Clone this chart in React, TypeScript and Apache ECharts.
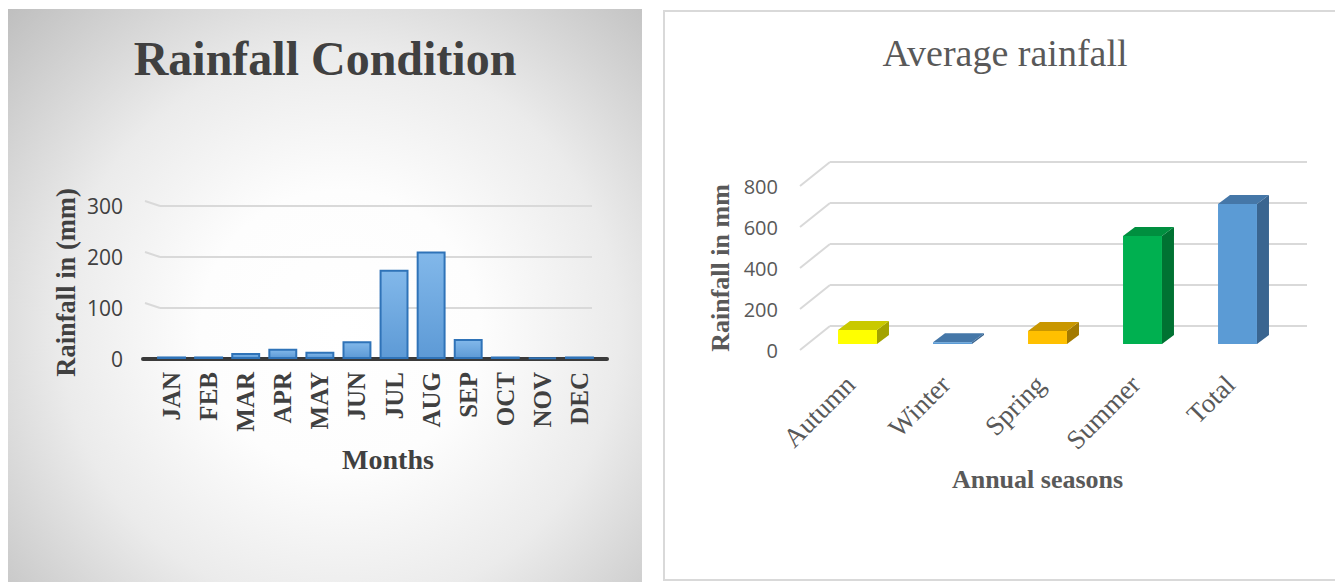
import { useEffect, useRef } from "react";
import * as echarts from "echarts";

// Monthly rainfall (left panel)
const months = ["JAN", "FEB", "MAR", "APR", "MAY", "JUN", "JUL", "AUG", "SEP", "OCT", "NOV", "DEC"];
const monthlyRainfall = [5, 5, 12, 20, 14, 35, 175, 211, 39, 5, 3, 5];
const monthlyTicks = [0, 100, 200, 300];

// Seasonal averages (right panel)
const seasons = ["Autumn", "Winter", "Spring", "Summer", "Total"];
const seasonalRainfall = [68, 8, 63, 527, 683];
const seasonalTicks = [0, 200, 400, 600, 800];

// Face colours of the 3-D columns: front, top, side
const seasonFront = ["#ffff00", "#5b9bd5", "#ffc000", "#00b050", "#5b9bd5"];
const seasonTop = ["#c9c900", "#4577a8", "#c99700", "#008f3f", "#4577a8"];
const seasonSide = ["#a3a300", "#3a6590", "#a37a00", "#007232", "#3a6590"];

const SERIF = "'Liberation Serif', 'Times New Roman', serif";
const SANS = "'Open Sans', 'Noto Sans', sans-serif";

const tickStep = (t: number[]) => t[1] - t[0];

export default function App() {
  const ref = useRef<HTMLDivElement>(null);

  useEffect(() => {
    if (!ref.current) return;
    const chart = echarts.init(ref.current, undefined, { renderer: "svg" });

    const leftY = {
      min: monthlyTicks[0],
      max: monthlyTicks[monthlyTicks.length - 1],
      interval: tickStep(monthlyTicks),
    };
    const rightY = {
      min: seasonalTicks[0],
      max: seasonalTicks[seasonalTicks.length - 1],
      interval: tickStep(seasonalTicks),
    };

    const option: any = {
      animation: false,
      graphic: [
        {
          type: "rect",
          z: -10,
          shape: { x: 8, y: 9, width: 634, height: 573 },
          style: {
            fill: new echarts.graphic.RadialGradient(
              340,
              330,
              465,
              [
                { offset: 0, color: "#ffffff" },
                { offset: 0.3, color: "#fdfdfd" },
                { offset: 0.6, color: "#ebebeb" },
                { offset: 1, color: "#bebebe" },
              ],
              true
            ),
          },
        },
        {
          type: "rect",
          z: -10,
          shape: { x: 664, y: 11, width: 720, height: 569 },
          style: { fill: "#ffffff", stroke: "#d9d9d9", lineWidth: 2 },
        },
        {
          type: "text",
          x: 325,
          y: 58,
          style: {
            text: "Rainfall Condition",
            align: "center",
            verticalAlign: "middle",
            font: `bold 48px ${SERIF}`,
            fill: "#404040",
          },
        },
        {
          type: "text",
          x: 1005,
          y: 53,
          style: {
            text: "Average rainfall",
            align: "center",
            verticalAlign: "middle",
            font: `38px ${SERIF}`,
            fill: "#595959",
          },
        },
      ],
      grid: [
        { left: 153, top: 206, width: 445, height: 153 }, // bars
        { left: 160, top: 206, width: 432, height: 153 }, // back gridlines
        { left: 143, top: 206, width: 464, height: 153 }, // floor line
        { left: 810, top: 186, width: 475, height: 164 }, // seasonal columns
        { left: 830, top: 162, width: 477, height: 164 }, // back wall
      ],
      xAxis: [
        {
          gridIndex: 0,
          type: "category",
          data: months,
          axisLine: { show: false },
          axisTick: { show: false },
          axisLabel: {
            rotate: 90,
            margin: 13,
            interval: 0,
            color: "#404040",
            fontFamily: SERIF,
            fontWeight: "bold",
            fontSize: 25,
          },
          name: "Months",
          nameLocation: "middle",
          nameGap: 86,
          nameTextStyle: {
            color: "#404040",
            fontFamily: SERIF,
            fontWeight: "bold",
            fontSize: 28,
            padding: [0, 0, 0, 25],
          },
        },
        { gridIndex: 1, type: "category", data: months, show: false },
        {
          gridIndex: 2,
          type: "category",
          data: months,
          offset: 2.5,
          axisLine: { lineStyle: { color: "#3a3a3a", width: 4 } },
          axisTick: { show: false },
          axisLabel: { show: false },
        },
        {
          gridIndex: 3,
          type: "category",
          data: seasons,
          axisLine: { show: false },
          axisTick: { show: false },
          axisLabel: {
            rotate: 45,
            margin: 23,
            interval: 0,
            color: "#595959",
            fontFamily: SERIF,
            fontSize: 27,
            padding: [0, 10, 0, 0],
          },
          name: "Annual seasons",
          nameLocation: "middle",
          nameGap: 116,
          nameTextStyle: {
            color: "#595959",
            fontFamily: SERIF,
            fontWeight: "bold",
            fontSize: 26,
            padding: [0, 20, 0, 0],
          },
        },
        { gridIndex: 4, type: "category", data: seasons, show: false },
      ],
      yAxis: [
        {
          gridIndex: 0,
          type: "value",
          ...leftY,
          splitLine: { show: false },
          axisLine: { show: false },
          axisTick: { show: false },
          axisLabel: { margin: 30, color: "#404040", fontFamily: SANS, fontSize: 21 },
          name: "Rainfall in (mm)",
          nameLocation: "middle",
          nameRotate: 90,
          nameGap: 74,
          nameTextStyle: {
            color: "#404040",
            fontFamily: SERIF,
            fontWeight: "bold",
            fontSize: 26.5,
          },
        },
        {
          gridIndex: 1,
          type: "value",
          ...leftY,
          axisLine: { show: false },
          axisTick: { show: false },
          axisLabel: { show: false },
          splitLine: {
            lineStyle: {
              color: monthlyTicks.map((t, i) => (i === 0 ? "rgba(0,0,0,0)" : "#d9d9d9")),
              width: 2,
            },
          },
        },
        { gridIndex: 2, type: "value", ...leftY, show: false },
        {
          gridIndex: 3,
          type: "value",
          ...rightY,
          splitLine: { show: false },
          axisLine: { show: false },
          axisTick: { show: false },
          axisLabel: { margin: 32, color: "#595959", fontFamily: SANS, fontSize: 20 },
          name: "Rainfall in mm",
          nameLocation: "middle",
          nameRotate: 90,
          nameGap: 77,
          nameTextStyle: {
            color: "#595959",
            fontFamily: SERIF,
            fontWeight: "bold",
            fontSize: 26,
          },
        },
        {
          gridIndex: 4,
          type: "value",
          ...rightY,
          axisLine: { show: false },
          axisTick: { show: false },
          axisLabel: { show: false },
          splitLine: { lineStyle: { color: "#d9d9d9", width: 2 } },
        },
      ],
      series: [
        {
          type: "bar",
          xAxisIndex: 0,
          yAxisIndex: 0,
          data: monthlyRainfall,
          barWidth: "78%",
          itemStyle: {
            color: new echarts.graphic.LinearGradient(0, 0, 0, 1, [
              { offset: 0, color: "#82b8ea" },
              { offset: 1, color: "#5d9ad6" },
            ]),
            borderColor: "#2f73b8",
            borderWidth: 2,
          },
        },
        {
          // short receding ends of the back gridlines
          type: "custom",
          xAxisIndex: 1,
          yAxisIndex: 1,
          silent: true,
          data: monthlyTicks.slice(1).map((t) => [0, t]),
          renderItem: (params: any, api: any) => {
            const y = api.coord([0, api.value(1)])[1];
            const x = params.coordSys.x;
            return {
              type: "line",
              shape: { x1: x - 15, y1: y - 5, x2: x, y2: y },
              style: { stroke: "#d9d9d9", lineWidth: 2 },
            };
          },
        },
        {
          // receding edges of the back wall
          type: "custom",
          xAxisIndex: 3,
          yAxisIndex: 3,
          silent: true,
          data: seasonalTicks.map((t) => [0, t]),
          renderItem: (params: any, api: any) => {
            const y = api.coord([0, api.value(1)])[1];
            const x = params.coordSys.x;
            return {
              type: "line",
              shape: { x1: x - 10, y1: y, x2: x + 20, y2: y - 24 },
              style: { stroke: "#d9d9d9", lineWidth: 2 },
            };
          },
        },
        {
          // 3-D columns
          type: "custom",
          xAxisIndex: 3,
          yAxisIndex: 3,
          data: seasonalRainfall.map((v, i) => [i, v]),
          encode: { x: 0, y: 1 },
          renderItem: (params: any, api: any) => {
            const i = api.value(0);
            const base = api.coord([i, 0]);
            const top = api.coord([i, api.value(1)]);
            const bw = api.size([1, 0])[0] * 0.41;
            const x0 = base[0] - bw / 2;
            const x1 = base[0] + bw / 2;
            const yb = base[1] - 6;
            const yt = top[1] - 6;
            const dx = 12;
            const dy = -9;
            return {
              type: "group",
              children: [
                {
                  type: "polygon",
                  shape: { points: [[x1, yb], [x1, yt], [x1 + dx, yt + dy], [x1 + dx, yb + dy]] },
                  style: { fill: seasonSide[i] },
                },
                {
                  type: "polygon",
                  shape: { points: [[x0, yt], [x1, yt], [x1 + dx, yt + dy], [x0 + dx, yt + dy]] },
                  style: { fill: seasonTop[i] },
                },
                {
                  type: "rect",
                  shape: { x: x0, y: yt, width: bw, height: yb - yt },
                  style: { fill: seasonFront[i] },
                },
              ],
            };
          },
        },
      ],
    };

    chart.setOption(option);
    return () => chart.dispose();
  }, []);

  return (
    <div
      style={{
        position: "fixed",
        left: 0,
        top: 0,
        width: 1335,
        height: 582,
        background: "#ffffff",
      }}
    >
      <div ref={ref} style={{ width: 1335, height: 582 }} />
    </div>
  );
}
